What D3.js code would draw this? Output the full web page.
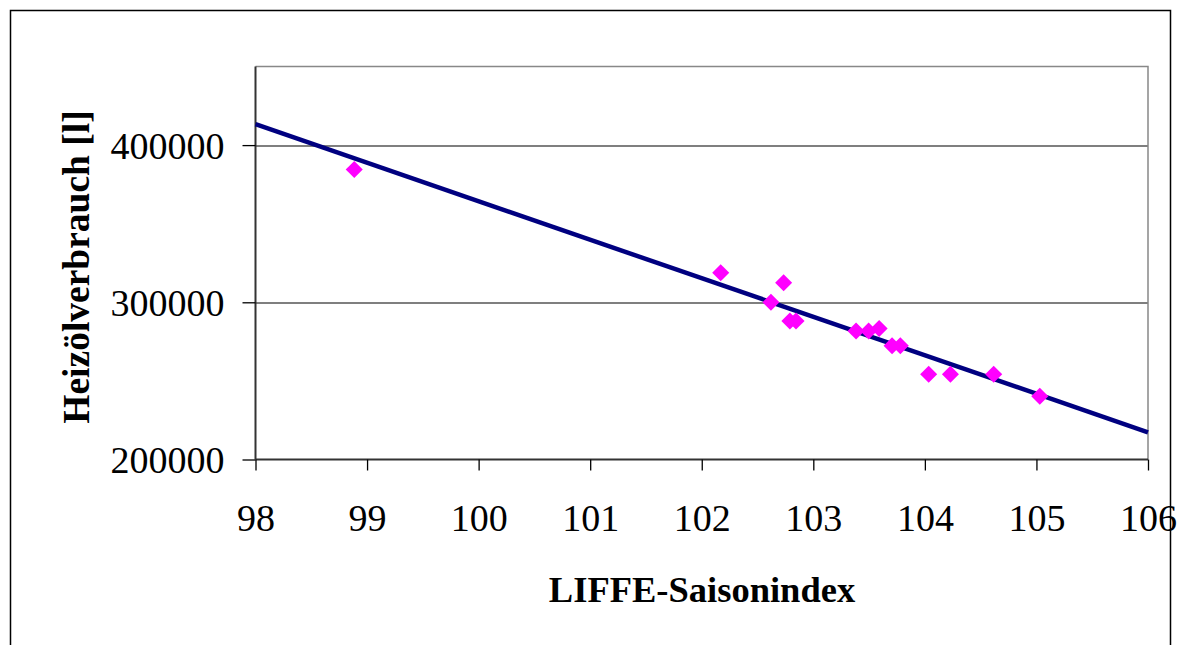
<!DOCTYPE html>
<html>
<head>
<meta charset="utf-8">
<script src="https://cdn.jsdelivr.net/npm/d3@7"></script>
<style>
  body { margin: 0; background: #fff; }
  text { font-family: "Liberation Serif", "Times New Roman", serif; fill: #000; }
</style>
</head>
<body>
<div class="chart"></div>
<script>
// data
var saisonIndex = [98.885, 102.17, 102.734, 102.62, 102.79, 102.845, 103.383, 103.496,
  103.59, 103.706, 103.78, 104.034, 104.229, 104.617, 105.03];
var heizoel = [384500, 318800, 312400, 300000, 288100, 288100, 281700, 281700,
  283400, 272400, 272400, 254200, 254200, 254200, 240300];
// trend line end points
var trendX = [98, 106];
var trendY = [413300, 217300];
var xTicks = [98, 99, 100, 101, 102, 103, 104, 105, 106];
var yTicks = [200000, 300000, 400000];

var svgWidth = 1181;
var svgHeight = 645;

var margin = { top: 66.5, left: 255.5 };
var width = 892.5;
var height = 393;

var svg = d3.select(".chart")
  .append("svg")
  .attr("width", svgWidth)
  .attr("height", svgHeight);

// outer chart border
svg.append("path")
  .attr("d", "M10.5,650 V10.5 H1170.5 V650")
  .attr("fill", "none")
  .attr("stroke", "#000")
  .attr("stroke-width", 1.5);

var chartGroup = svg.append("g")
  .attr("transform", `translate(${margin.left}, ${margin.top})`);

var x = d3.scaleLinear().domain([98, 106]).range([0, width]);
var y = d3.scaleLinear().domain([200000, 450000]).range([height, 0]);

// gridlines
chartGroup.append("g")
  .selectAll("line")
  .data(yTicks.slice(1))
  .enter()
  .append("line")
  .attr("x1", 0)
  .attr("x2", width)
  .attr("y1", d => Math.round(y(d)) + 0.5)
  .attr("y2", d => Math.round(y(d)) + 0.5)
  .attr("stroke", "#000")
  .attr("stroke-width", 1.2);

// plot frame (top / right in gray)
chartGroup.append("path")
  .attr("d", `M0,0 H${width} V${height}`)
  .attr("fill", "none")
  .attr("stroke", "#888")
  .attr("stroke-width", 1.5);

// axes
var bottomAxis = d3.axisBottom(x).tickValues(xTicks).tickSize(11).tickPadding(34)
  .tickFormat(d3.format("d"));
var leftAxis = d3.axisLeft(y).tickValues(yTicks).tickSize(13).tickPadding(18)
  .tickFormat(d3.format("d"));

var gx = chartGroup.append("g")
  .attr("transform", `translate(0, ${height})`)
  .call(bottomAxis);
var gy = chartGroup.append("g")
  .call(leftAxis);

[gx, gy].forEach(function(g) {
  g.select(".domain").attr("stroke", "#333").attr("stroke-width", 2);
  g.selectAll(".tick line").attr("stroke", "#000").attr("stroke-width", 1.3);
  g.selectAll(".tick text")
    .attr("font-family", "Liberation Serif")
    .attr("font-size", 38)
    .attr("fill", "#000");
});
gy.select(".domain").attr("d", `M0,${height}V0`);
gx.select(".domain").attr("d", `M0,0H${width}`);
gy.selectAll(".tick text").attr("dy", "0.34em");

// trend line
var trend = trendX.map((d, i) => ({ x: d, y: trendY[i] }));
chartGroup.append("path")
  .datum(trend)
  .attr("d", d3.line().x(d => x(d.x)).y(d => y(d.y)))
  .attr("fill", "none")
  .attr("stroke", "#000080")
  .attr("stroke-width", 4.5);

// points
var points = saisonIndex.map((d, i) => ({ x: d, y: heizoel[i] }));
chartGroup.selectAll(".pt")
  .data(points)
  .enter()
  .append("path")
  .attr("class", "pt")
  .attr("d", d3.symbol(d3.symbolSquare, 145))
  .attr("transform", d => `translate(${x(d.x)}, ${y(d.y)}) rotate(45)`)
  .attr("fill", "#ff00ff");

// axis titles
svg.append("text")
  .attr("x", 702)
  .attr("y", 602)
  .attr("text-anchor", "middle")
  .attr("font-weight", "bold")
  .attr("font-size", 36.5)
  .text("LIFFE-Saisonindex");

svg.append("text")
  .attr("transform", "translate(89, 267) rotate(-90)")
  .attr("text-anchor", "middle")
  .attr("font-weight", "bold")
  .attr("font-size", 37.5)
  .text("Heizölverbrauch [l]");
</script>
</body>
</html>
